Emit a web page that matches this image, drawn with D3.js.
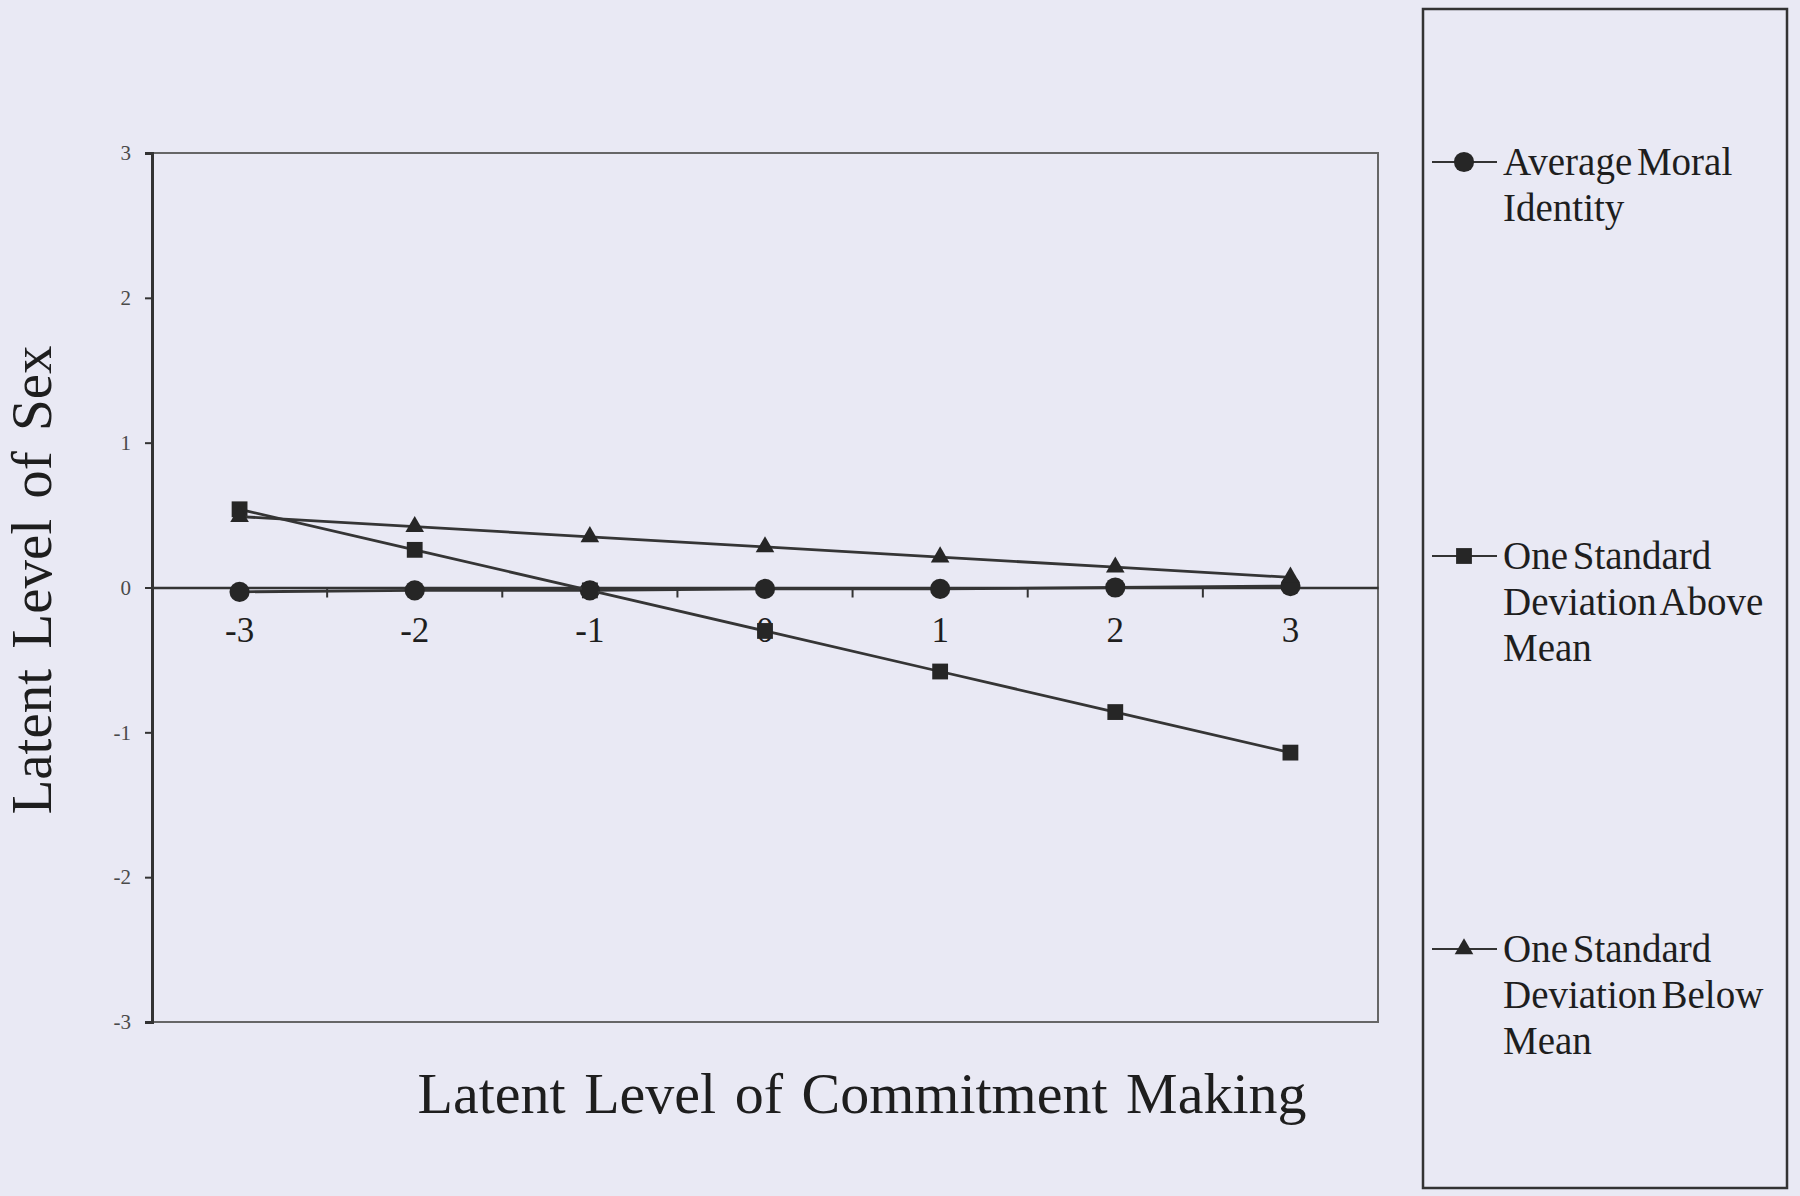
<!DOCTYPE html>
<html>
<head>
<meta charset="utf-8">
<script src="https://cdn.jsdelivr.net/npm/d3@7"></script>
<style>
  html, body { margin: 0; padding: 0; background: #e9e9f4; }
  svg { display: block; }
</style>
</head>
<body>
<svg id="chart" width="1800" height="1196"></svg>
<script>
// data
const categories = [-3, -2, -1, 0, 1, 2, 3];
const averageMoral = [-0.03, -0.02, -0.02, -0.01, -0.01, 0, 0.01];
const oneSdAbove = [0.54, 0.26, -0.02, -0.30, -0.58, -0.86, -1.14];
const oneSdBelow = [0.49, 0.42, 0.35, 0.28, 0.21, 0.14, 0.07];
const yTicks = [-3, -2, -1, 0, 1, 2, 3];

const seriesNames = [
  ["Average Moral", "Identity"],
  ["One Standard", "Deviation Above", "Mean"],
  ["One Standard", "Deviation Below", "Mean"]
];

const serif = "'Liberation Serif', 'Times New Roman', serif";
const ink = "#1e1e1e";

const svg = d3.select("#chart");

const plot = { left: 152, right: 1378, top: 153, bottom: 1022 };

const x = d3.scaleBand()
  .domain(categories)
  .range([plot.left, plot.right]);

const y = d3.scaleLinear()
  .domain([-3, 3])
  .range([plot.bottom, plot.top]);

const series = [
  { values: averageMoral, shape: d3.symbolCircle, size: 320 },
  { values: oneSdAbove, shape: d3.symbolSquare, size: 250 },
  { values: oneSdBelow, shape: d3.symbolTriangle, size: 150 }
];

// plot frame
svg.append("rect")
  .attr("x", plot.left)
  .attr("y", plot.top)
  .attr("width", plot.right - plot.left)
  .attr("height", plot.bottom - plot.top)
  .attr("fill", "#e9e9f4")
  .attr("stroke", "#666")
  .attr("stroke-width", 2);

// y axis
const yAxis = svg.append("g")
  .attr("transform", `translate(${plot.left},0)`)
  .call(d3.axisLeft(y).tickValues(yTicks).tickSize(7).tickPadding(14).tickFormat(d => String(d)));
yAxis.select(".domain").attr("stroke", "#333").attr("stroke-width", 3);
yAxis.selectAll(".tick line").attr("stroke", "#333").attr("stroke-width", 2);
yAxis.selectAll("text")
  .attr("font-family", serif)
  .attr("font-size", "21px")
  .attr("fill", "#4a4a4a");

// x axis sits on y = 0
const xAxis = svg.append("g")
  .attr("transform", `translate(0,${y(0)})`)
  .call(d3.axisBottom(x).tickSize(0).tickPadding(30));
xAxis.select(".domain").attr("stroke", "#333").attr("stroke-width", 2.5);
xAxis.selectAll("text")
  .attr("font-family", serif)
  .attr("font-size", "35px")
  .attr("fill", ink);

// tick marks between categories
xAxis.selectAll(".minor")
  .data(categories.slice(1))
  .join("line")
  .attr("class", "minor")
  .attr("x1", d => x(d))
  .attr("x2", d => x(d))
  .attr("y1", 0)
  .attr("y2", 10)
  .attr("stroke", "#333")
  .attr("stroke-width", 2);

const line = d3.line()
  .x((d, i) => x(categories[i]) + x.bandwidth() / 2)
  .y(d => y(d));

series.forEach(s => {
  svg.append("path")
    .datum(s.values)
    .attr("d", line)
    .attr("fill", "none")
    .attr("stroke", "#353535")
    .attr("stroke-width", 2.8);

  svg.append("g").selectAll("path")
    .data(s.values)
    .join("path")
    .attr("transform", (d, i) => `translate(${x(categories[i]) + x.bandwidth() / 2},${y(d)})`)
    .attr("d", d3.symbol().type(s.shape).size(s.size))
    .attr("fill", "#262626");
});

// axis titles
svg.append("text")
  .attr("x", 862)
  .attr("y", 1113)
  .attr("text-anchor", "middle")
  .attr("font-family", serif)
  .attr("font-size", "58px")
  .attr("word-spacing", "4px")
  .attr("fill", ink)
  .text("Latent Level of Commitment Making");

svg.append("text")
  .attr("transform", "translate(51,580) rotate(-90)")
  .attr("text-anchor", "middle")
  .attr("font-family", serif)
  .attr("font-size", "57px")
  .attr("word-spacing", "6px")
  .attr("fill", ink)
  .text("Latent Level of Sex");

// legend
const legend = svg.append("g");
legend.append("rect")
  .attr("x", 1423)
  .attr("y", 9)
  .attr("width", 364)
  .attr("height", 1179)
  .attr("fill", "none")
  .attr("stroke", "#333")
  .attr("stroke-width", 2.5);

const legendY = [162, 556, 949];
const entries = legend.selectAll(".entry")
  .data(series)
  .join("g")
  .attr("class", "entry")
  .attr("transform", (d, i) => `translate(0,${legendY[i]})`);

entries.append("line")
  .attr("x1", 1432)
  .attr("x2", 1497)
  .attr("stroke", "#333")
  .attr("stroke-width", 2);

entries.append("path")
  .attr("transform", "translate(1464,0)")
  .attr("d", d => d3.symbol().type(d.shape).size(d.size)())
  .attr("fill", "#262626");

entries.append("text")
  .attr("font-family", serif)
  .attr("font-size", "39px")
  .attr("word-spacing", "-5px")
  .attr("fill", ink)
  .selectAll("tspan")
  .data((d, i) => seriesNames[i])
  .join("tspan")
  .attr("x", 1503)
  .attr("y", (d, i) => 13 + i * 46)
  .text(d => d);
</script>
</body>
</html>
